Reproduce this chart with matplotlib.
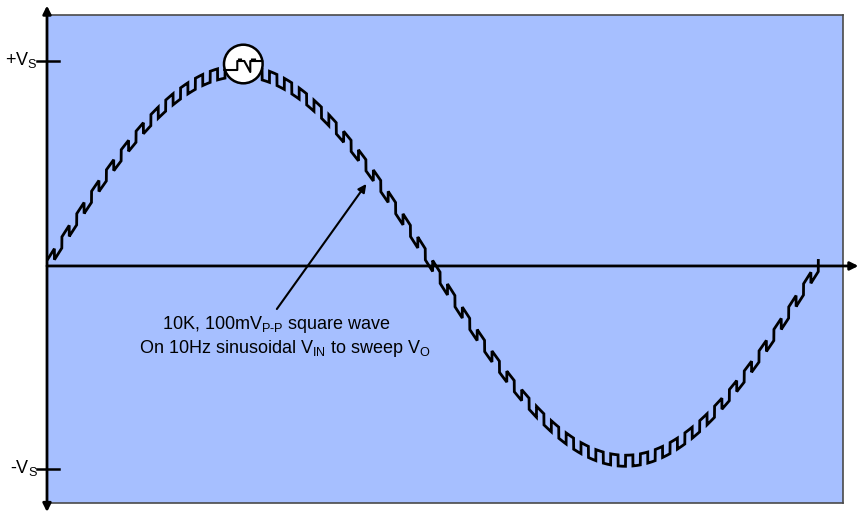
import numpy as np
import matplotlib
matplotlib.use("Agg")
import matplotlib.pyplot as plt
from matplotlib.patches import Circle

plt.rcParams['font.family'] = ['Liberation Sans', 'DejaVu Sans']
plt.rcParams['mathtext.fontset'] = 'custom'
plt.rcParams['mathtext.rm'] = 'Liberation Sans'
plt.rcParams['mathtext.it'] = 'Liberation Sans:italic'

# sweep parameters (supply normalised to Vs = 1)
sine_freq = 10.0          # Hz
sine_amp = 0.95           # fraction of Vs
square_cycles = 52        # square wave periods over one sine period
square_amp = 0.027        # half of the 100mVp-p step, in Vs units
n_samples = 20000

# magnified detail in the circle (pixel units around the circle centre)
detail_x = [-19, -6, -6, 1, 7, 7, 19]
detail_y = [-6, -6, 3, 3, -8, 3, 3]
ring_x = [-5, -4, -3, -2, 8, 9, 10, 11, 12]

t_ms = np.linspace(0, 1000.0 / sine_freq, n_samples)
sine = sine_amp * np.sin(2 * np.pi * sine_freq * t_ms / 1000.0)
square = square_amp * np.sign(np.sin(2 * np.pi * square_cycles * sine_freq * t_ms / 1000.0))
vo = sine + square

fig = plt.figure(figsize=(8.61, 5.13), dpi=100)
ax = fig.add_axes([48 / 861, 10 / 513, 795 / 861, 488 / 513])
ax.set_facecolor('#a6bfff')
ax.set_xlim(0.13, 103.2)
ax.set_ylim(-1.156, 1.224)
ax.set_xticks([])
ax.set_yticks([])
for s in ax.spines.values():
    s.set_color('#4a4a4a')
    s.set_linewidth(1.2)
ax.spines['left'].set_visible(False)

ax.plot(t_ms, vo, color='black', lw=2.0, solid_joinstyle='miter', zorder=3)

# axes with arrows
ax.annotate('', xy=(0, 1.27), xytext=(0, -1.2), annotation_clip=False,
            arrowprops=dict(arrowstyle='<|-|>', color='black', lw=2,
                            mutation_scale=12, shrinkA=0, shrinkB=0), zorder=4)
ax.annotate('', xy=(105.2, 0), xytext=(0, 0), annotation_clip=False,
            arrowprops=dict(arrowstyle='-|>', color='black', lw=2,
                            mutation_scale=12, shrinkA=0, shrinkB=0), zorder=4)

# supply ticks and labels
for v, lab, yb in [(1.0, '+V$_\\mathrm{S}$', 0.98), (-0.99, '-V$_\\mathrm{S}$', -1.01)]:
    ax.plot([-1.3, 1.6], [v, v], color='black', lw=1.8, clip_on=False, zorder=4)
    ax.text(-1.2, yb, lab, ha='right', va='baseline', fontsize=13, clip_on=False)

# annotation
ax.annotate('', xy=(41.4, 0.40), xytext=(29.8, -0.21),
            arrowprops=dict(arrowstyle='-|>', color='black', lw=1.5,
                            mutation_scale=12, shrinkA=0, shrinkB=0))
ax.text(29.7, -0.307, '10K, 100mV$_\\mathrm{P\u2010P}$ square wave',
        ha='center', va='baseline', fontsize=13)
ax.text(30.8, -0.424, 'On 10Hz sinusoidal V$_\\mathrm{IN}$ to sweep V$_\\mathrm{O}$',
        ha='center', va='baseline', fontsize=13)

# magnifier circle at the crest
px_t = 771 / 100.0
px_v = 205.0
tc, vc = 25.45, 0.985
ins = ax.inset_axes([tc - 21 / px_t, vc - 21 / px_v, 42 / px_t, 42 / px_v],
                    transform=ax.transData, zorder=5)
ins.set_xlim(-21, 21)
ins.set_ylim(-21, 21)
ins.axis('off')
ins.add_patch(Circle((0, 0), 19.3, facecolor='white', edgecolor='black', lw=1.8))
ins.plot(detail_x, detail_y, color='black', lw=1.5, clip_on=False)
ins.vlines(ring_x, 3, 6, color='black', lw=0.8)

fig.savefig('out.png', dpi=100)
